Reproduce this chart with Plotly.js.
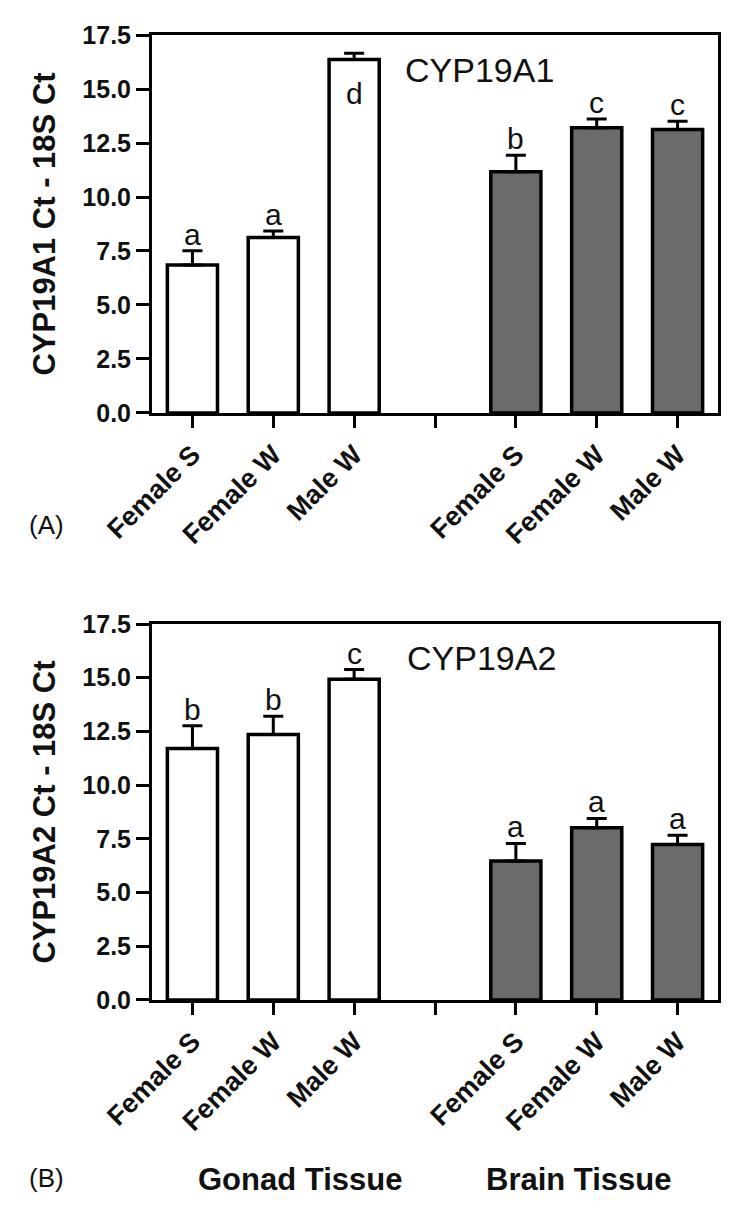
<!DOCTYPE html>
<html>
<head>
<meta charset="utf-8">
<script src="https://cdn.plot.ly/plotly-3.0.1.min.js"></script>
<style>html,body{margin:0;padding:0;background:#fff;}</style>
</head>
<body>
<div id="chart" style="width:750px;height:1220px;"></div>
<script>
// ---- data ----
const groups = ["Female S", "Female W", "Male W"];
const tissues = ["Gonad Tissue", "Brain Tissue"];

// Panel A: CYP19A1
const gonadA = [6.85, 8.12, 16.37];
const gonadAErr = [0.66, 0.31, 0.28];
const gonadALetters = ["a", "a", "d"];
const brainA = [11.17, 13.21, 13.13];
const brainAErr = [0.76, 0.40, 0.38];
const brainALetters = ["b", "c", "c"];

// Panel B: CYP19A2
const gonadB = [11.71, 12.36, 14.93];
const gonadBErr = [1.05, 0.85, 0.45];
const gonadBLetters = ["b", "b", "c"];
const brainB = [6.47, 8.02, 7.24];
const brainBErr = [0.82, 0.43, 0.43];
const brainBLetters = ["a", "a", "a"];

const yTicks = [0, 2.5, 5, 7.5, 10, 12.5, 15, 17.5];

// ---- build ----
const FONT = "Liberation Sans, Arial, Helvetica, sans-serif";
const gonadX = groups.map((_, i) => i);
const brainX = groups.map((_, i) => i + groups.length + 1);
const tickVals = [...gonadX, groups.length, ...brainX];
const tickText = [...groups, "", ...groups];

function barTrace(x, y, err, fill, xa, ya, name) {
  return {
    type: "bar", x: x, y: y, name: name, xaxis: xa, yaxis: ya,
    width: 0.62,
    marker: {color: fill, line: {color: "#000", width: 3.5}},
    error_y: {type: "data", symmetric: false, array: err, arrayminus: err.map(() => 0),
              color: "#000", thickness: 3, width: 10},
    showlegend: false, hoverinfo: "x+y"
  };
}

const traces = [
  barTrace(gonadX, gonadA, gonadAErr, "#ffffff", "x", "y", "Gonad A"),
  barTrace(brainX, brainA, brainAErr, "#6b6b6b", "x", "y", "Brain A"),
  barTrace(gonadX, gonadB, gonadBErr, "#ffffff", "x2", "y2", "Gonad B"),
  barTrace(brainX, brainB, brainBErr, "#6b6b6b", "x2", "y2", "Brain B")
];

const annotations = [];
function letterAnns(x, vals, errs, letters, xa, ya) {
  x.forEach((xv, i) => {
    const top = vals[i] + errs[i];
    const inside = top > 16.5;
    annotations.push({
      x: xv, y: inside ? vals[i] : top, xref: xa, yref: ya,
      text: letters[i], showarrow: false,
      xanchor: "center", yanchor: inside ? "top" : "bottom",
      yshift: inside ? -16 : -2,
      font: {family: FONT, size: 30, color: "#111"}
    });
  });
}
letterAnns(gonadX, gonadA, gonadAErr, gonadALetters, "x", "y");
letterAnns(brainX, brainA, brainAErr, brainALetters, "x", "y");
letterAnns(gonadX, gonadB, gonadBErr, gonadBLetters, "x2", "y2");
letterAnns(brainX, brainB, brainBErr, brainBLetters, "x2", "y2");

annotations.push(
  {text: "CYP19A1", x: 0.443, y: 0.907, xref: "x domain", yref: "y domain",
   xanchor: "left", yanchor: "middle", showarrow: false,
   font: {family: FONT, size: 34, color: "#111"}},
  {text: "CYP19A2", x: 0.447, y: 0.91, xref: "x2 domain", yref: "y2 domain",
   xanchor: "left", yanchor: "middle", showarrow: false,
   font: {family: FONT, size: 34, color: "#111"}},
  {text: "(A)", x: -0.186, y: 0.492, xref: "paper", yref: "paper",
   xanchor: "center", yanchor: "middle", showarrow: false,
   font: {family: FONT, size: 26, color: "#111"}},
  {text: "(B)", x: -0.186, y: -0.1845, xref: "paper", yref: "paper",
   xanchor: "center", yanchor: "middle", showarrow: false,
   font: {family: FONT, size: 26, color: "#111"}},
  {text: tissues[0], x: 0.2615, y: -0.1855, xref: "paper", yref: "paper",
   xanchor: "center", yanchor: "middle", showarrow: false,
   font: {family: FONT, size: 31, color: "#111", weight: "bold"}},
  {text: tissues[1], x: 0.754, y: -0.1855, xref: "paper", yref: "paper",
   xanchor: "center", yanchor: "middle", showarrow: false,
   font: {family: FONT, size: 31, color: "#111", weight: "bold"}}
);

function xAxis(anchor) {
  return {
    anchor: anchor, domain: [0, 1], range: [-0.5, 6.5],
    tickmode: "array", tickvals: tickVals, ticktext: tickText, tickangle: -45,
    ticks: "outside", ticklen: 12, tickwidth: 3, tickcolor: "#000",
    showline: true, linecolor: "#000", linewidth: 3, mirror: true,
    showgrid: false, zeroline: false, fixedrange: true,
    tickfont: {family: FONT, size: 27, color: "#111", weight: "bold"}
  };
}
function yAxis(anchor, domain, title) {
  return {
    anchor: anchor, domain: domain, range: [0, 17.5],
    tickmode: "array", tickvals: yTicks, ticktext: yTicks.map(v => v.toFixed(1)),
    ticks: "outside", ticklen: 13, tickwidth: 3, tickcolor: "#000",
    showline: true, linecolor: "#000", linewidth: 3, mirror: true,
    showgrid: false, zeroline: false, fixedrange: true,
    tickfont: {family: FONT, size: 25, color: "#111", weight: "bold"},
    title: {text: title, standoff: 18,
            font: {family: FONT, size: 31, color: "#111", weight: "bold"}}
  };
}

const layout = {
  width: 750, height: 1220,
  margin: {l: 152, r: 32, t: 35, b: 220},
  paper_bgcolor: "#fff", plot_bgcolor: "#fff",
  bargap: 0.3,
  xaxis: xAxis("y"),
  yaxis: yAxis("x", [0.6083, 1], "CYP19A1 Ct - 18S Ct"),
  xaxis2: xAxis("y2"),
  yaxis2: yAxis("x2", [0, 0.3896], "CYP19A2 Ct - 18S Ct"),
  annotations: annotations
};

Plotly.newPlot("chart", traces, layout, {displayModeBar: false, staticPlot: true});
</script>
</body>
</html>
